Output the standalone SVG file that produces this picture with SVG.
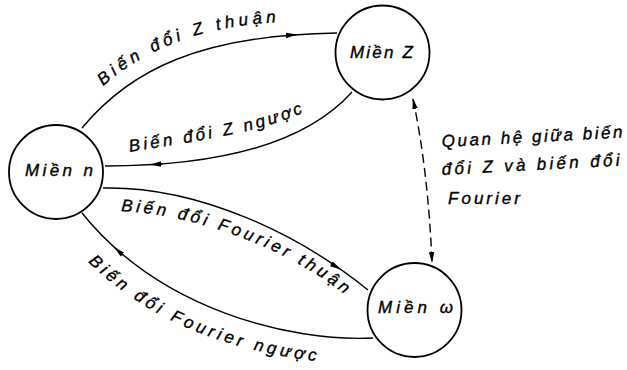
<svg xmlns="http://www.w3.org/2000/svg" width="627" height="370" viewBox="0 0 627 370">
<style>
.node{fill:#fff;stroke:#000;stroke-width:1.8}
.lbl{font-family:"Liberation Sans","DejaVu Sans",sans-serif;font-style:italic;font-size:17px;fill:#000;stroke:#000;stroke-width:0.35}
.nlbl{font-family:"Liberation Sans","DejaVu Sans",sans-serif;font-style:italic;font-size:17px;fill:#000;stroke:#000;stroke-width:0.35}
.edge{fill:none;stroke:#000;stroke-width:1.4}
.dash{fill:none;stroke:#000;stroke-width:1.4;stroke-dasharray:9 5}
.l3{letter-spacing:3.54px}
.l4{letter-spacing:3.8px}
</style>
<defs>
<marker id="ah" markerWidth="11" markerHeight="7" refX="10" refY="3.5" orient="auto-start-reverse" markerUnits="userSpaceOnUse">
<path d="M0,0.8 L11,3.5 L0,6.2 Z" fill="#000"/>
</marker>
<path id="p1" d="M103,86 C 150,45 210,25 282,22"/>
<path id="p2" d="M130,152 C 180,143 250,136 305,112"/>
<path id="p3" d="M121,211 C 200,215 290,250 348,297"/>
<path id="p4" d="M88,262 C 150,322 230,352 325,362"/>
</defs>
<g id="connectors">
<path class="edge" d="M82,128 C 130,70 200,35 337,33"/>
<path class="edge" d="M285,35.6 L296,34.7" marker-end="url(#ah)"/>
<path class="edge" d="M352,92 C 300,150 200,166 105,166"/>
<path class="edge" d="M163,163.9 L151,164.6" marker-end="url(#ah)"/>
<path class="edge" d="M103,188 C 200,186 300,235 368,290"/>
<path class="edge" d="M331,263.6 L340,269" marker-end="url(#ah)"/>
<path class="edge" d="M373,338 C 290,342 160,310 82,213"/>
<path class="edge" d="M123,255 L115,248" marker-end="url(#ah)"/>
<path class="dash" d="M413,99 Q 428,170 432,262" marker-start="url(#ah)" marker-end="url(#ah)"/>
<text class="lbl"><textPath href="#p1" textLength="188" lengthAdjust="spacing">Biến đổi Z thuận</textPath></text>
<text class="lbl"><textPath href="#p2" textLength="178" lengthAdjust="spacing">Biến đổi Z ngược</textPath></text>
<text class="lbl l3"><textPath href="#p3" startOffset="0">Biến</textPath></text>
<text class="lbl l3"><textPath href="#p3" startOffset="56.5">đổi</textPath></text>
<text class="lbl l3"><textPath href="#p3" startOffset="98">Fourier</textPath></text>
<text class="lbl l3"><textPath href="#p3" startOffset="185">thuận</textPath></text>
<text class="lbl l4"><textPath href="#p4" startOffset="0">Biến</textPath></text>
<text class="lbl l4"><textPath href="#p4" startOffset="57.8">đổi</textPath></text>
<text class="lbl l4"><textPath href="#p4" startOffset="100.4">Fourier</textPath></text>
<text class="lbl l4"><textPath href="#p4" startOffset="189.4">ngược</textPath></text>
<g class="lbl">
<text x="442" y="147" transform="rotate(-3 442 147)" textLength="181" lengthAdjust="spacing">Quan hệ giữa biến</text>
<text x="442" y="175" transform="rotate(-3 442 175)" textLength="178" lengthAdjust="spacing">đổi Z và biến đổi</text>
<text x="448" y="204" textLength="72" lengthAdjust="spacing">Fourier</text>
</g>
</g>
<g id="node-n">
<circle class="node" cx="56" cy="172" r="47"/>
<text class="nlbl" x="25" y="176" textLength="68" lengthAdjust="spacing">Miền n</text>
</g>
<g id="node-z">
<circle class="node" cx="382.5" cy="52.5" r="47"/>
<text class="nlbl" x="350" y="58" textLength="63" lengthAdjust="spacing">Miền Z</text>
</g>
<g id="node-w">
<circle class="node" cx="414.5" cy="310" r="47"/>
<text class="nlbl" x="378" y="313" textLength="75" lengthAdjust="spacing">Miền ω</text>
</g>
</svg>
